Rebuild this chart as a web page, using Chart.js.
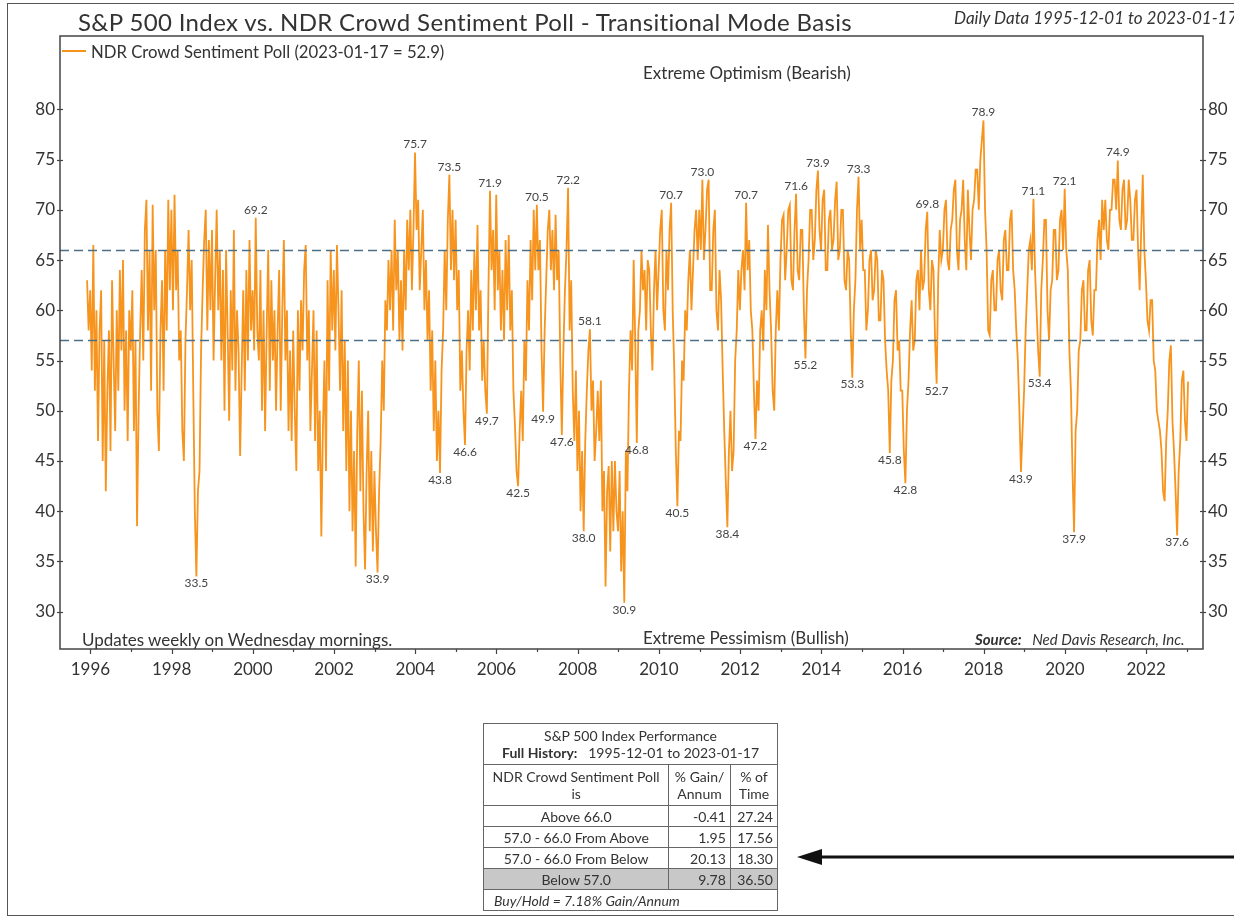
<!DOCTYPE html>
<html>
<head>
<meta charset="utf-8">
<script src="https://cdn.jsdelivr.net/npm/chart.js@4.4.1/dist/chart.umd.min.js"></script>
<style>
  body { margin: 0; background: #fff; font-family: Lato, sans-serif; color: #333; }
  #wrap { position: relative; width: 1234px; height: 922px; overflow: hidden; }
  #wrap canvas { position: absolute; left: 0; top: 0; }
  .txt { position: absolute; white-space: nowrap; line-height: 1; }
  #title { left: 78px; top: 10px; font-size: 24px; letter-spacing: 0.35px; color: #333; }
  #daily { left: 954px; top: 9px; font-size: 17px; font-style: italic; color: #333; }
  #legend { left: 62px; top: 44px; font-size: 16.7px; }
  #legend span.swatch { display: inline-block; width: 24px; height: 2px; background: #f7941e; vertical-align: middle; margin-right: 5px; position: relative; top: -3px; }
  #opt { left: 643px; top: 64px; font-size: 17px; }
  #pess { left: 643px; top: 629px; font-size: 17px; }
  #upd { left: 82px; top: 631px; font-size: 17px; }
  #src { left: 975px; top: 632px; font-size: 15px; font-style: italic; }
  #perf { position: absolute; left: 483px; top: 723px; width: 295px; border-collapse: collapse;
          font-size: 14px; color: #333; border: 1.5px solid #555; }
  #perf td { border: 1px solid #666; padding: 0 4px; height: 20px; line-height: 17px; }
  #perf td.c { text-align: center; }
  #perf td.r { text-align: right; }
  #perf tr.shade td { background: #c8c8c8; }
  #perf td.hd { height: 40px; text-align: center; }
  #perf td.bh { font-style: italic; text-align: left; padding-left: 10px; }
</style>
</head>
<body>
<div id="wrap">
  <canvas id="sentiment-chart" width="1234" height="922"></canvas>
  <div class="txt" id="title">S&amp;P 500 Index vs. NDR Crowd Sentiment Poll - Transitional Mode Basis</div>
  <div class="txt" id="daily">Daily Data 1995-12-01 to 2023-01-17</div>
  <div class="txt" id="legend"><span class="swatch"></span>NDR Crowd Sentiment Poll (2023-01-17 = 52.9)</div>
  <div class="txt" id="opt">Extreme Optimism (Bearish)</div>
  <div class="txt" id="pess">Extreme Pessimism (Bullish)</div>
  <div class="txt" id="upd">Updates weekly on Wednesday mornings.</div>
  <div class="txt" id="src"><b>Source:</b>&nbsp;&nbsp; Ned Davis Research, Inc.</div>
  <table id="perf"></table>
</div>
<script>
// sentiment poll, one reading every 2 weeks starting 1995-12-01
var startYear = 1995 + 11 / 12;
var perYear = 26;
var sentiment = [
  63, 58,                                                                                          // Dec 1995
  62, 54, 66.5, 52, 60, 47, 58, 62, 45, 57, 42, 52, 58, 46, 63, 55, 48, 60, 52, 64, 56, 65, 50, 58, 47, 60,          // 1996
  56, 62, 48, 57, 38.5, 50, 58, 64, 55, 68, 71, 58, 66, 52, 70.5, 60, 66, 50, 46, 58, 63, 52, 66, 58, 71, 62,        // 1997
  70, 60, 71.5, 62, 66, 55, 58, 48, 45, 57, 62, 68, 60, 65, 52, 40, 33.5, 42, 44, 56, 62, 67, 70, 58, 67, 60,        // 1998
  68, 55, 63, 70, 60, 66, 55, 64, 50, 66, 58, 49, 62, 54, 68, 52, 60, 56, 45.5, 54, 62, 52, 64, 55, 67, 58,          // 1999
  62, 56, 69.2, 58, 55, 64, 50, 60, 48, 58, 66, 52, 63, 55, 60, 50, 58, 64, 50, 60, 67, 55, 60, 48, 56, 47,          // 2000
  58, 50, 44, 60, 52, 61, 56, 64, 66.5, 55, 60, 48, 54, 60, 47, 58, 44, 50, 37.5, 48, 55, 44, 63, 52, 66, 58,        // 2001
  64, 56, 66.5, 60, 52, 62, 48, 57, 44, 55, 40, 50, 38, 46, 34.5, 48, 55, 42, 52, 40, 34.2, 44, 50, 38, 46, 36,      // 2002
  44, 38, 33.9, 42, 47, 55, 50, 61, 58, 65, 60, 66, 58, 69, 62, 66, 57, 63, 56, 66, 60, 69, 64, 70, 62, 68,          // 2003
  75.7, 68, 71, 62, 66, 70, 60, 65, 57, 62, 52, 58, 48, 55, 45, 50, 43.8, 54, 58, 66, 60, 69, 73.5, 64, 70, 63,      // 2004
  69, 60, 64, 52, 56, 50, 46.6, 56, 60, 54, 64, 58, 66, 60, 68.5, 58, 62, 53, 57, 52, 49.7, 62, 71.9, 64, 68, 60,    // 2005
  71.5, 62, 66, 58, 64, 57, 67, 60, 67.5, 58, 62, 52, 48.5, 44, 42.5, 48, 52, 47, 57, 53, 63, 58, 67, 61, 70, 64,    // 2006
  70.5, 64, 67, 56, 49.9, 58, 63, 68, 70, 64, 68, 62, 69.5, 63, 66, 55, 47.6, 56, 62, 66, 72.2, 58, 63, 52, 47, 54,  // 2007
  44, 50, 40, 46, 38.0, 47, 52, 56, 58.1, 50, 53, 45, 48, 52, 47, 53, 40, 44, 32.5, 42, 44.5, 36, 45, 38, 45, 40,    // 2008
  38, 44, 34, 40, 30.9, 46, 42, 52, 58, 54, 65, 57, 46.8, 58, 60, 66, 62, 64, 58, 65, 64, 58, 54, 62, 66, 60,        // 2009
  64, 68, 70, 60, 58, 66, 62, 68, 70.7, 60, 54, 46, 40.5, 48, 47, 55, 53, 60, 58, 63, 66, 60, 64, 68, 70, 65,        // 2010
  70, 66, 73.0, 65, 68, 72, 73, 62, 62, 68, 70, 60, 58, 64, 61, 54, 48, 43, 38.4, 46, 50, 44, 46, 55, 58, 64,        // 2011
  60, 64, 66, 62, 70.7, 64, 67, 60, 58, 52, 47.2, 53, 50, 58, 60, 56, 64, 60, 68.5, 62, 58, 52, 50, 58, 62, 58,      // 2012
  65, 69, 69.5, 63, 66, 70, 70.5, 63, 62, 68, 71.6, 64, 63, 68, 68, 60, 55.2, 62, 65, 70, 70, 65, 67, 72, 73.9, 68,  // 2013
  66, 71, 72, 64, 64, 69, 70, 66, 67, 71, 72.8, 65, 66, 70, 70, 63, 62, 66, 65, 58, 53.3, 60, 63, 70, 73.3, 66,      // 2014
  69, 64, 64, 58, 60, 65, 66, 61, 62, 66, 65, 59, 59, 64, 63, 57, 54, 52, 45.8, 53, 55, 61, 62, 56, 57, 52,          // 2015
  52, 46, 42.8, 50, 53, 58, 61, 56, 57, 63, 64, 60, 66, 62, 63, 68, 69.8, 62, 60, 65, 64, 57, 52.7, 63, 68, 65,      // 2016
  66, 70, 71, 65, 64, 68, 69, 72, 73, 66, 64, 69, 70, 73, 67, 64, 72, 68, 65, 70, 71, 74, 74, 70, 75, 77,            // 2017
  78.9, 70, 66, 58, 57.5, 63, 64, 60, 60, 65, 66, 62, 61, 67, 68, 64, 64, 69, 70, 64, 62, 58, 55, 50, 43.9, 48,      // 2018
  52, 58, 62, 66, 67, 64, 71.1, 64, 60, 56, 53.4, 62, 65, 69, 69, 60, 57, 62, 63, 68, 68, 63, 64, 69, 70, 66,        // 2019
  72.1, 66, 64, 56, 52, 44, 37.9, 48, 50, 56, 57, 62, 63, 58, 58, 64, 65, 59, 57.5, 62, 62, 67, 69, 65, 71, 68,      // 2020
  71, 67, 66, 70, 70, 73, 73, 70, 74.9, 69, 68, 72, 73, 68, 69, 73, 71, 67, 67, 71, 72, 66, 62, 68, 73.5, 66,        // 2021
  63, 59, 58, 61, 61, 55, 54, 50, 49, 48, 46, 42, 41, 47, 50, 55, 56.5, 49, 46, 42, 37.6, 44, 47, 53, 54, 49,        // 2022
  47, 52.9                                                                                         // Jan 2023
];

// labelled extremes: [year, reading within year]
var peakMarks = [[2000, 2], [2004, 0], [2004, 22], [2005, 22], [2007, 0], [2007, 20], [2008, 8],
  [2010, 8], [2011, 2], [2012, 4], [2013, 10], [2013, 24], [2014, 24], [2016, 16], [2018, 0],
  [2019, 6], [2020, 0], [2021, 8]];
var troughMarks = [[1998, 16], [2003, 2], [2004, 16], [2005, 6], [2005, 20], [2006, 14], [2007, 4],
  [2007, 16], [2008, 4], [2009, 4], [2009, 12], [2010, 12], [2011, 18], [2012, 10], [2013, 16],
  [2014, 20], [2015, 18], [2016, 2], [2016, 22], [2018, 24], [2019, 10], [2020, 6], [2022, 20]];

var thresholds = [66, 57];
var yTicks = [30, 35, 40, 45, 50, 55, 60, 65, 70, 75, 80];
var tickYears = [];
for (var yr = 1996; yr <= 2023; yr++) tickYears.push(yr);

// table
var tableRows = ['Above 66.0', '57.0 - 66.0 From Above', '57.0 - 66.0 From Below', 'Below 57.0'];
var gainPerAnnum = ['-0.41', '1.95', '20.13', '9.78'];
var pctOfTime = ['27.24', '17.56', '18.30', '36.50'];

var html = '<tr><td colspan="3" class="hd">S&amp;P 500 Index Performance<br><b>Full History:</b>&nbsp;&nbsp; 1995-12-01 to 2023-01-17</td></tr>' +
  '<tr><td class="c hd">NDR Crowd Sentiment Poll<br>is</td><td class="c hd">% Gain/<br>Annum</td><td class="c hd">% of<br>Time</td></tr>';
tableRows.forEach(function (r, i) {
  html += '<tr' + (i === 3 ? ' class="shade"' : '') + '><td class="c">' + r + '</td><td class="r">' + gainPerAnnum[i] +
    '</td><td class="r">' + pctOfTime[i] + '</td></tr>';
});
html += '<tr><td colspan="3" class="bh">Buy/Hold = 7.18% Gain/Annum</td></tr>';
document.getElementById('perf').innerHTML = html;

function markIndex(m) { return 2 + (m[0] - 1996) * perYear + m[1]; }

var extras = {
  id: 'extras',
  afterDatasetsDraw: function (chart) {
    var ctx = chart.ctx, a = chart.chartArea, xs = chart.scales.x, ys = chart.scales.y;
    ctx.save();
    ctx.strokeStyle = '#4a6f86';
    ctx.lineWidth = 1.3;
    ctx.setLineDash([9, 5]);
    thresholds.forEach(function (v) {
      var py = Math.round(ys.getPixelForValue(v)) + 0.5;
      ctx.beginPath(); ctx.moveTo(a.left, py); ctx.lineTo(a.right, py); ctx.stroke();
    });
    ctx.setLineDash([]);

    ctx.font = '12px Lato';
    ctx.fillStyle = '#444';
    ctx.textAlign = 'center';
    ctx.textBaseline = 'bottom';
    peakMarks.forEach(function (m) {
      var i = markIndex(m);
      var px = xs.getPixelForValue(startYear + i / perYear), py = ys.getPixelForValue(sentiment[i]);
      ctx.fillText(sentiment[i].toFixed(1), px, py - 2);
    });
    ctx.textBaseline = 'top';
    troughMarks.forEach(function (m) {
      var i = markIndex(m);
      var px = xs.getPixelForValue(startYear + i / perYear), py = ys.getPixelForValue(sentiment[i]);
      ctx.fillText(sentiment[i].toFixed(1), px, py + 1);
    });
    ctx.restore();
  },
  afterDraw: function (chart) {
    var ctx = chart.ctx, a = chart.chartArea, xs = chart.scales.x, ys = chart.scales.y;
    ctx.save();
    ctx.strokeStyle = '#444';
    ctx.lineWidth = 1.5;
    ctx.strokeRect(a.left, a.top, a.right - a.left, a.bottom - a.top);
    ctx.lineWidth = 1.2;
    tickYears.forEach(function (v) {
      var px = Math.round(xs.getPixelForValue(v)) + 0.5;
      ctx.beginPath(); ctx.moveTo(px, a.bottom); ctx.lineTo(px, a.bottom + (v % 2 === 0 ? 5 : 3)); ctx.stroke();
    });
    yTicks.forEach(function (v) {
      var py = Math.round(ys.getPixelForValue(v)) + 0.5;
      ctx.beginPath(); ctx.moveTo(a.left - 3, py); ctx.lineTo(a.left + 3, py); ctx.stroke();
      ctx.beginPath(); ctx.moveTo(a.right - 3, py); ctx.lineTo(a.right + 3, py); ctx.stroke();
    });
    // outer frame
    ctx.strokeStyle = '#555';
    ctx.lineWidth = 1;
    ctx.strokeRect(7.5, 3.5, 1240, 912);
    // arrow pointing at the table
    ctx.strokeStyle = '#111';
    ctx.fillStyle = '#111';
    ctx.lineWidth = 3;
    ctx.beginPath(); ctx.moveTo(1240, 857); ctx.lineTo(815, 857); ctx.stroke();
    ctx.beginPath(); ctx.moveTo(797, 857); ctx.lineTo(822, 849); ctx.lineTo(822, 865); ctx.closePath(); ctx.fill();
    ctx.restore();
  }
};

var tickFont = { family: 'Lato', size: 17 };

var ctx = document.getElementById('sentiment-chart').getContext('2d');
var myChart = new Chart(ctx, {
  type: 'line',
  data: {
    datasets: [{
      label: 'NDR Crowd Sentiment Poll',
      data: sentiment.map(function (v, i) { return { x: startYear + i / perYear, y: v }; }),
      borderColor: '#f7941e',
      borderWidth: 1.8,
      pointRadius: 0,
      tension: 0,
      yAxisID: 'y'
    }]
  },
  options: {
    responsive: false,
    animation: false,
    layout: { padding: { top: 36 } },
    plugins: { legend: { display: false }, tooltip: { enabled: false } },
    scales: {
      x: {
        type: 'linear', min: 1995.25, max: 2023.4,
        grid: { display: false, drawTicks: false }, border: { display: false },
        afterBuildTicks: function (s) { s.ticks = tickYears.map(function (v) { return { value: v }; }); },
        afterFit: function (s) { s.height = 273; },
        ticks: { autoSkip: false, maxRotation: 0, padding: 10, color: '#333', font: tickFont,
          callback: function (v) { return v % 2 === 0 ? String(v) : ''; } }
      },
      y: {
        position: 'left', min: 26.29, max: 87.3,
        grid: { display: false, drawTicks: false }, border: { display: false },
        afterBuildTicks: function (s) { s.ticks = yTicks.map(function (v) { return { value: v }; }); },
        afterFit: function (s) { s.width = 60; },
        ticks: { padding: 5, color: '#333', font: tickFont }
      },
      y2: {
        position: 'right', min: 26.29, max: 87.3,
        grid: { display: false, drawTicks: false }, border: { display: false },
        afterBuildTicks: function (s) { s.ticks = yTicks.map(function (v) { return { value: v }; }); },
        afterFit: function (s) { s.width = 31; },
        ticks: { padding: 5, color: '#333', font: tickFont }
      }
    }
  },
  plugins: [extras]
});
</script>
</body>
</html>
